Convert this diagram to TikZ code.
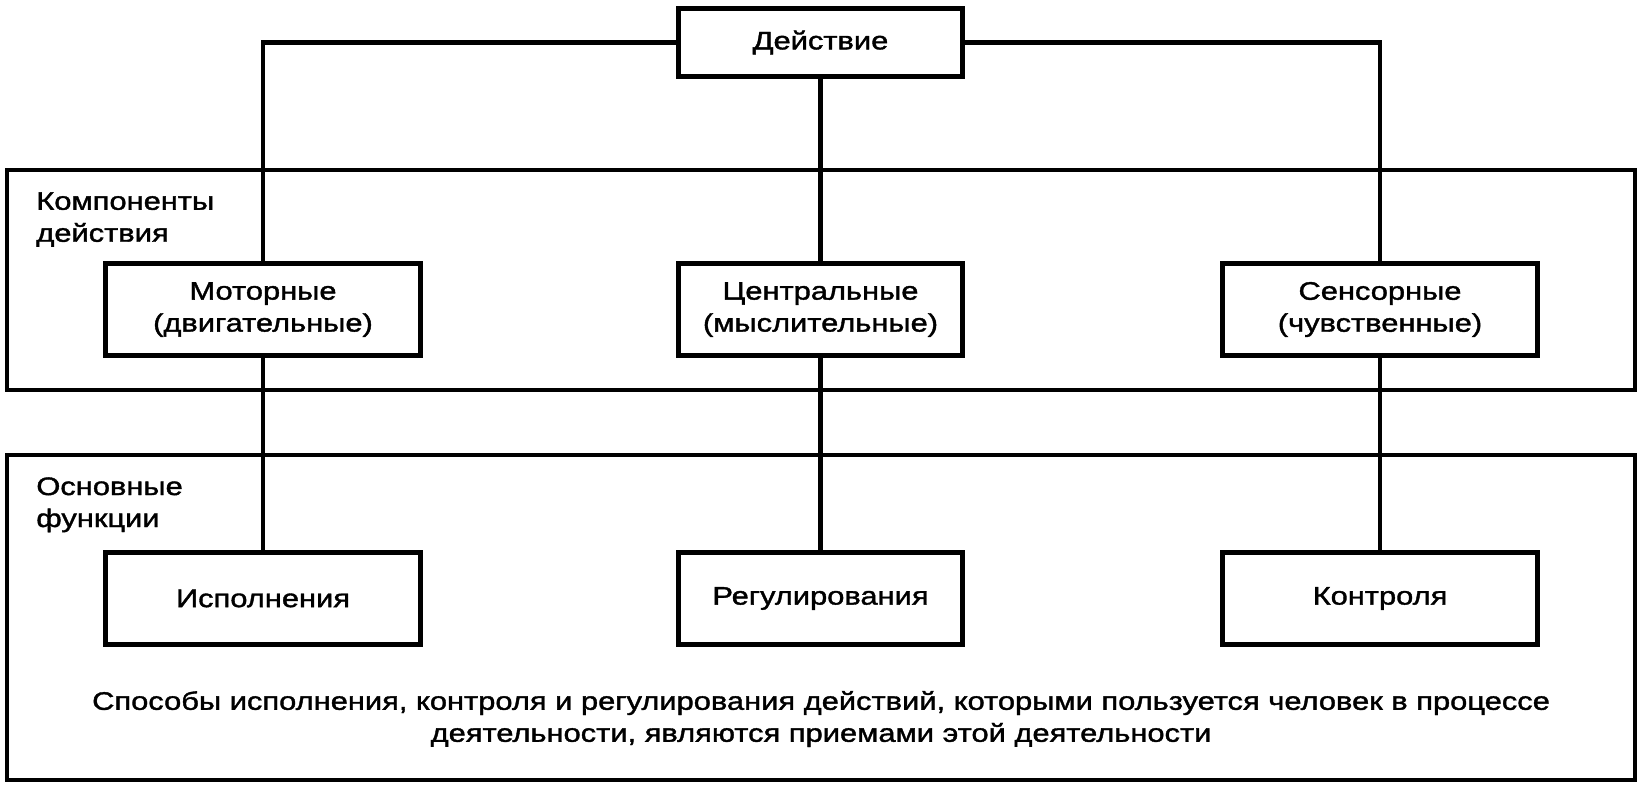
\documentclass[tikz,border=0pt]{standalone}
\usepackage{fontspec}
\setmainfont[FakeStretch=1.22, FakeBold=1.5]{Liberation Sans}
\usetikzlibrary{positioning, calc}

\tikzset{
	blk/.style={draw, line width=2.7pt, inner sep=0pt, align=center,
		minimum width=6.3cm, minimum height=1.84cm},
	link/.style={line width=2.5pt},
	frm/.style={draw, line width=2.2pt},
	lbl/.style={inner sep=0pt, align=left, anchor=north west}
}

\begin{document}
\begin{tikzpicture}[x=0.02cm, y=-0.02cm, font=\fontsize{14.4}{18.2}\selectfont]
	\useasboundingbox (0,0) rectangle (1642,791);
	
	% the two wide frames
	\draw[frm] (7,170) rectangle (1635,390);
	\draw[frm] (7,455) rectangle (1635,780);
	
	\node[lbl] (comp) at (36,192) {Компоненты\\действия};
	\node[lbl] (func) at (36,477) {Основные\\функции};
	
	% top
	\node[blk, minimum width=5.68cm, minimum height=1.36cm] (act) at (820.5,42.5) {Действие};
	
	% components
	\node[blk] (motor) at (263,309.5) {Моторные\\(двигательные)};
	\node[blk, minimum width=5.68cm] (central) at (820.5,309.5) {Центральные\\(мыслительные)};
	\node[blk] (sensor) at (1380,309.5) {Сенсорные\\(чувственные)};
	
	% functions
	\node[blk] (exec) at (263,598.5) {Исполнения};
	\node[blk, minimum width=5.68cm] (regul) at (820.5,598.5) {Регулирования};
	\node[blk] (check) at (1380,598.5) {Контроля};
	
	\node[inner sep=0pt, align=center] (note) at (821,719)
		{Способы исполнения, контроля и регулирования действий, которыми пользуется человек в процессе\\
		 деятельности, являются приемами этой деятельности};
	
	% connectors
	\draw[link] (act.west) -| (motor.north);
	\draw[link] (act.east) -| (sensor.north);
	\draw[link] (act.south) -- (central.north);
	\foreach \a/\b in {motor/exec, central/regul, sensor/check}
		\draw[link] (\a.south) -- (\b.north);
\end{tikzpicture}
\end{document}
